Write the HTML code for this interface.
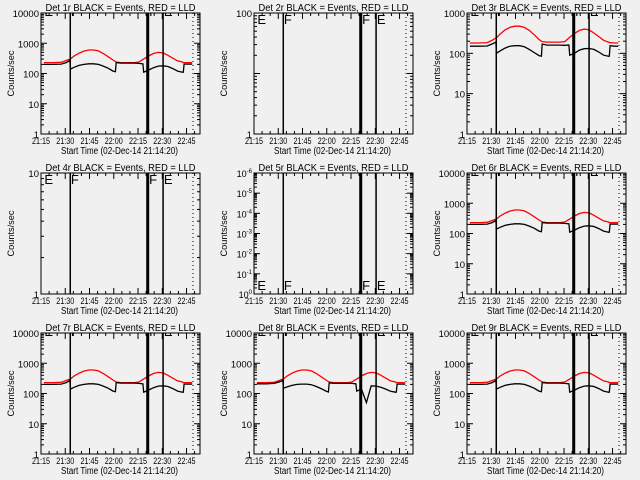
<!DOCTYPE html>
<html><head><meta charset="utf-8"><style>
html,body{margin:0;padding:0;background:#f0f0f0;}
svg{display:block;font-family:"Liberation Sans",sans-serif;}
</style></head><body>
<svg id="chart" width="640" height="480" viewBox="0 0 640 480" xmlns="http://www.w3.org/2000/svg">
<rect x="0" y="0" width="640" height="480" fill="#f0f0f0"/>
</svg>
<script>
// time in minutes after 21:00
const times = [16.8,22.5,27.5,30.5,32.9,33.1,35.5,38.5,41.5,44.5,47.5,50.5,53.5,56.5,59.5,61,61.5,64.5,68.5,72.5,75.5,78,78.5,81.5,84.5,87.5,90.5,93.5,96.5,99.5,102.5,103,103.5,106.5,108.5];
const det1Red = [230,230,235,270,300,300,380,470,550,600,600,560,460,360,280,250,240,230,230,230,240,290,300,380,460,500,480,400,320,260,240,230,230,230,230];
const det1Black = [200,200,205,230,270,140,160,185,200,210,210,200,175,150,120,115,230,220,220,220,215,210,110,130,155,175,180,170,145,120,110,110,205,205,205];
const det3Red = [180,180,185,210,240,240,300,380,440,470,470,440,370,290,220,200,195,190,190,190,195,240,250,310,370,400,380,320,260,210,190,185,185,180,180];
const det3Black = [150,150,152,170,190,100,115,135,150,155,155,145,125,105,88,85,170,160,160,160,158,160,90,100,120,130,132,125,108,90,85,85,155,150,150];
const det8Black = [210,210,215,240,270,150,165,185,200,205,205,195,170,145,120,112,225,215,215,215,215,210,120,140,50,180,175,160,140,118,110,110,205,205,205];
const xTickVals = [15,30,45,60,75,90,105];
const xTickLabels = ["21:15","21:30","21:45","22:00","22:15","22:30","22:45"];
const markerTimes = [33.1,90.5];
const thickTime = 81;
const dottedTime = 109;
const letterTimes = [17.1,33.5,81.9,91];
const letterText = ["E","F","F","E"];

const panels = [
 {n:1,lo:0,hi:4,red:det1Red,black:det1Black,let:"topclip",labels:["1","10","100","1000","10000"]},
 {n:2,lo:0,hi:2,red:null,black:null,let:"top",labels:["1",null,"100"]},
 {n:3,lo:0,hi:3,red:det3Red,black:det3Black,let:"topclip",labels:["1","10","100","1000"]},
 {n:4,lo:0,hi:1,red:null,black:null,let:"top",labels:["1","10"]},
 {n:5,lo:0,hi:6,red:null,black:null,let:"bottom",labels:["0","-1","-2","-3","-4","-5","-6"],exp:true},
 {n:6,lo:0,hi:4,red:det1Red,black:det1Black,let:"topclip",labels:["1","10","100","1000","10000"]},
 {n:7,lo:0,hi:4,red:det1Red,black:det1Black,let:"topclip",labels:["1","10","100","1000","10000"]},
 {n:8,lo:0,hi:4,red:det1Red,black:det8Black,let:"topclip",labels:["1","10","100","1000","10000"]},
 {n:9,lo:0,hi:4,red:det1Red,black:det1Black,let:"topclip",labels:["1","10","100","1000","10000"]}
];

const NS="http://www.w3.org/2000/svg";
const svg=document.getElementById('chart');
function mk(tag,attrs,parent){const e=document.createElementNS(NS,tag);for(const k in attrs)e.setAttribute(k,attrs[k]);(parent||svg).appendChild(e);return e;}

panels.forEach((p,i)=>{
  const ox=(i%3)*213, oy=Math.floor(i/3)*160;
  const L=ox+41,R=ox+200,T=oy+13,B=oy+134;
  const g=mk('g',{});
  
  
  const xs=t=>L+(t-15)*1.617;
  const ys=v=>B-(Math.log10(v)-p.lo)/(p.hi-p.lo)*(B-T);
  const yd=d=>B-(d-p.lo)/(p.hi-p.lo)*(B-T);
  const cid='clip'+p.n;
  const cp=mk('clipPath',{id:cid},g);mk('rect',{x:L,y:T,width:R-L,height:B-T},cp);
  const ti=mk('text',{x:(L+R)/2,y:oy+11,'text-anchor':'middle','font-size':10.5,textLength:150,lengthAdjust:'spacingAndGlyphs'},g);
  ti.textContent='Det '+p.n+'r BLACK = Events, RED = LLD';
  
  
  const yt=mk('text',{x:0,y:0,'text-anchor':'middle','font-size':9,textLength:46,lengthAdjust:'spacingAndGlyphs',transform:`translate(${ox+14},${(T+B)/2}) rotate(-90)`},g);
  yt.textContent='Counts/sec';
  
  
  const xt=mk('text',{x:(L+R)/2-1,y:oy+154,'text-anchor':'middle','font-size':10,textLength:117,lengthAdjust:'spacingAndGlyphs'},g);
  xt.textContent='Start Time (02-Dec-14 21:14:20)';
  
  
  for(let t=15;t<=115;t+=5){const x=xs(t);if(x>R)break;const len=(t%15===0)?6:3;
    mk('line',{x1:x,y1:B,x2:x,y2:B-len,stroke:'#000'},g);mk('line',{x1:x,y1:T,x2:x,y2:T+len,stroke:'#000'},g);}
  xTickVals.forEach((t,k)=>{const tx=mk('text',{x:xs(t),y:oy+144,'text-anchor':'middle','font-size':9,textLength:18,lengthAdjust:'spacingAndGlyphs'},g);tx.textContent=xTickLabels[k];
    
    });
  for(let d=p.lo;d<=p.hi;d++){const y=yd(d);
    mk('line',{x1:L,y1:y,x2:L+6,y2:y,stroke:'#000'},g);mk('line',{x1:R,y1:y,x2:R-6,y2:y,stroke:'#000'},g);
    if(d<p.hi)for(let m=2;m<=9;m++){const ym=yd(d+Math.log10(m));mk('line',{x1:L,y1:ym,x2:L+3,y2:ym,stroke:'#000'},g);mk('line',{x1:R,y1:ym,x2:R-3,y2:ym,stroke:'#000'},g);}
    const lab=p.labels[d-p.lo];
    if(lab!==null){
      const tx=mk('text',{x:L-2,y:y+4,'text-anchor':'end','font-size':p.exp?9:9.5},g);
      if(p.exp){tx.textContent='10';const s=mk('tspan',{dy:-4,'font-size':6},tx);s.textContent=lab;}
      else tx.textContent=lab;
      
      
    }}
  const cg=mk('g',{'clip-path':`url(#${cid})`},g);
  const line=(arr,col,name)=>{if(!arr)return;let d='';arr.forEach((v,k)=>{d+=(k?'L':'M')+xs(times[k]).toFixed(1)+','+ys(v).toFixed(1);});
    const pa=mk('path',{d:d,fill:'none',stroke:col,'stroke-width':1.3},cg);
    
    };
  line(p.red,'#ff0000','lld-line');
  line(p.black,'#000000','events-line');
  markerTimes.forEach(t=>{mk('line',{x1:xs(t),y1:T,x2:xs(t),y2:B,stroke:'#000','stroke-width':1.5},cg);});
  mk('line',{x1:xs(thickTime),y1:T,x2:xs(thickTime),y2:B,stroke:'#000','stroke-width':3},cg);
  mk('line',{x1:xs(dottedTime),y1:T,x2:xs(dottedTime),y2:B,stroke:'#000','stroke-width':1,'stroke-dasharray':'1,3'},cg);
  letterTimes.forEach((t,k)=>{let y=p.let==='top'?T+11:(p.let==='bottom'?B-4:T+3);
    const tx=mk('text',{x:xs(t),y:y,'font-size':13,fill:'#000'},cg);tx.textContent=letterText[k];
    
    });
  const box=mk('rect',{x:L,y:T,width:R-L,height:B-T,fill:'none',stroke:'#000','stroke-width':1},g);
  
  
});
</script>
</body></html>
